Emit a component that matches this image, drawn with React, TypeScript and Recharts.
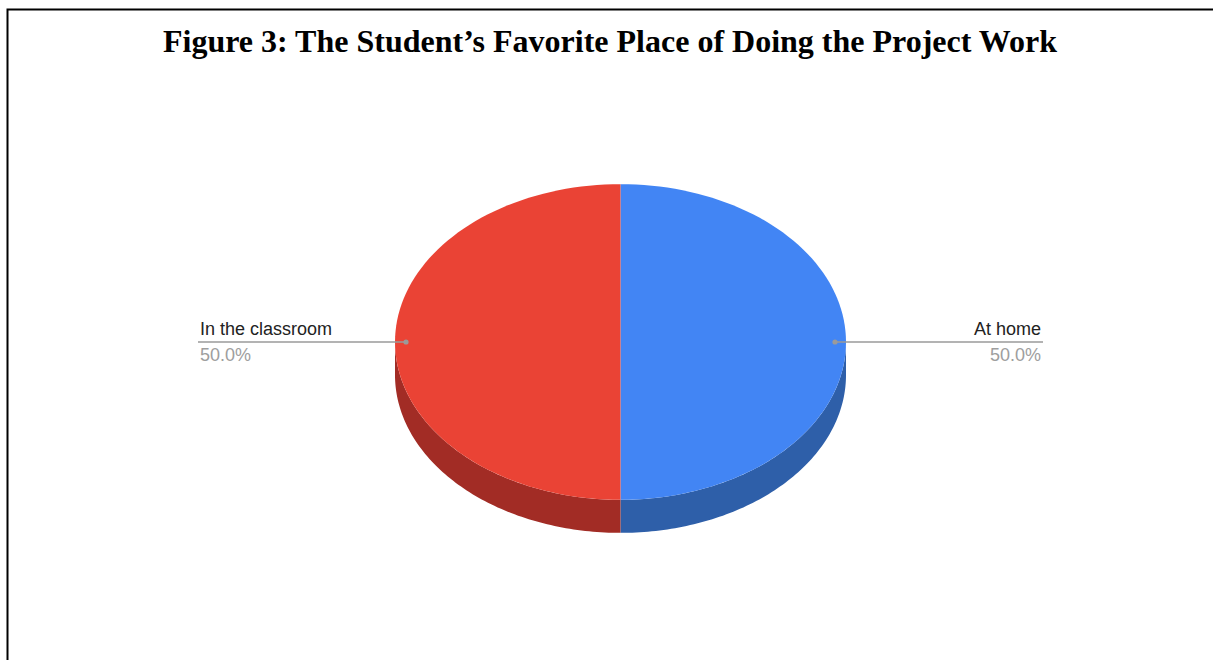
import React from 'react';
import { PieChart, Pie, Cell } from 'recharts';

const categories = ['At home', 'In the classroom'];
const values = [50, 50];
const percentLabels = ['50.0%', '50.0%'];
const topColors = ['#4285f4', '#ea4335'];
const sideColors = ['#2e5fa9', '#a22c25'];
const title = 'Figure 3: The Student\u2019s Favorite Place of Doing the Project Work';

const data = categories.map((name, i) => ({ name, value: values[i], pct: percentLabels[i], side: sideColors[i] }));

const W = 1213;
const H = 660;
const MARGIN = 5;
const CX = 620.5 - MARGIN;
const CY = 342 - MARGIN;
const R = 225.5;
const TILT = 0.7;
const DEPTH = 33;
const RAD = Math.PI / 180;

const pt = (cx: number, cy: number, r: number, a: number, dy = 0) => [
  cx + r * Math.cos(a * RAD),
  cy - r * TILT * Math.sin(a * RAD) + dy,
];

const arcPoints = (cx: number, cy: number, r: number, a1: number, a2: number, dy = 0) => {
  const n = 90;
  const pts: number[][] = [];
  for (let i = 0; i <= n; i++) {
    const a = a1 + ((a2 - a1) * i) / n;
    pts.push(pt(cx, cy, r, a, dy));
  }
  return pts;
};

const Slice3D = (props: any) => {
  const { cx, cy, outerRadius, startAngle, endAngle, fill, payload } = props;
  const lo = Math.min(startAngle, endAngle);
  const hi = Math.max(startAngle, endAngle);
  const walls: string[] = [];
  for (let k = -2; k <= 2; k++) {
    const a1 = Math.max(lo, -180 + 360 * k);
    const a2 = Math.min(hi, 360 * k);
    if (a2 > a1) {
      const top = arcPoints(cx, cy, outerRadius, a1, a2);
      const bot = arcPoints(cx, cy, outerRadius, a2, a1, DEPTH);
      const all = top.concat(bot);
      walls.push('M' + all.map((p) => p[0].toFixed(2) + ',' + p[1].toFixed(2)).join('L') + 'Z');
    }
  }
  const topPts = arcPoints(cx, cy, outerRadius, startAngle, endAngle);
  const topPath =
    'M' + cx + ',' + cy + 'L' + topPts.map((p) => p[0].toFixed(2) + ',' + p[1].toFixed(2)).join('L') + 'Z';
  const sideFill = (payload && payload.side) || props.side || '#555';
  return (
    <g>
      {walls.map((d, i) => (
        <path key={i} d={d} fill={sideFill} stroke="none" />
      ))}
      <path d={topPath} fill={fill} stroke="none" />
    </g>
  );
};

const renderLabel = (props: any) => {
  const { cx, cy, midAngle, outerRadius, name, payload } = props;
  const dir = Math.cos(midAngle * RAD) >= 0 ? 1 : -1;
  const dot = pt(cx, cy, outerRadius - 11, midAngle);
  const endX = cx + dir * (outerRadius + 197);
  const textX = endX - dir * 2;
  const anchor = dir > 0 ? 'end' : 'start';
  const pct = (payload && payload.pct) || '';
  return (
    <g>
      <line x1={dot[0]} y1={dot[1]} x2={endX} y2={dot[1]} stroke="#9a9a9a" strokeWidth={1.3} />
      <circle cx={dot[0]} cy={dot[1]} r={2.6} fill="#9a9a9a" />
      <text
        x={textX}
        y={dot[1] - 7}
        textAnchor={anchor}
        fontFamily="'Liberation Sans', Arial, sans-serif"
        fontSize={18}
        fill="#222222"
      >
        {name}
      </text>
      <text
        x={textX}
        y={dot[1] + 19}
        textAnchor={anchor}
        fontFamily="'Liberation Sans', Arial, sans-serif"
        fontSize={18}
        fill="#9e9e9e"
      >
        {pct}
      </text>
    </g>
  );
};

export default function App() {
  return (
    <div style={{ position: 'absolute', left: 0, top: 0, width: W, height: H, background: '#fff', overflow: 'hidden' }}>
      <svg width={W} height={H} style={{ position: 'absolute', left: 0, top: 0 }}>
        <rect x={7.5} y={9.5} width={W + 20} height={H + 20} fill="none" stroke="#000" strokeWidth={2} />
        <text
          x={610}
          y={51.5}
          textAnchor="middle"
          fontFamily="'Liberation Serif', 'Times New Roman', serif"
          fontWeight="bold"
          fontSize={32}
          fill="#000"
        >
          {title}
        </text>
      </svg>
      <div style={{ position: 'absolute', left: 0, top: 0 }}>
        <PieChart width={W} height={H} margin={{ top: MARGIN, right: MARGIN, bottom: MARGIN, left: MARGIN }}>
          <Pie
            data={data}
            dataKey="value"
            nameKey="name"
            cx={CX}
            cy={CY}
            outerRadius={R}
            startAngle={90}
            endAngle={-270}
            stroke="none"
            isAnimationActive={false}
            labelLine={false}
            label={renderLabel}
            shape={Slice3D}
            activeShape={Slice3D}
            inactiveShape={Slice3D}
          >
            {data.map((d, i) => (
              <Cell key={d.name} fill={topColors[i]} />
            ))}
          </Pie>
        </PieChart>
      </div>
    </div>
  );
}
